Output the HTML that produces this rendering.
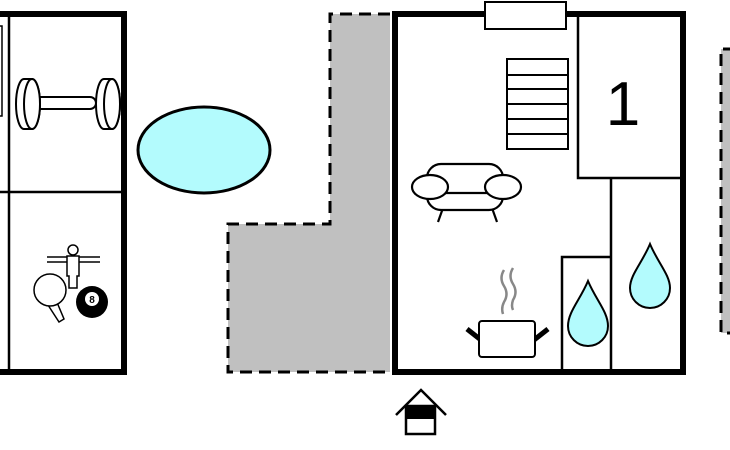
<!DOCTYPE html>
<html><head><meta charset="utf-8"><style>html,body{margin:0;padding:0;background:#fff}svg{display:block}</style></head>
<body>
<svg width="730" height="450" viewBox="0 0 730 450" xmlns="http://www.w3.org/2000/svg" font-family="Liberation Sans, sans-serif">
<!-- left building -->
<rect x="-10" y="14" width="134" height="358" fill="#fff" stroke="#000" stroke-width="6"/>
<line x1="9" y1="16" x2="9" y2="370" stroke="#000" stroke-width="2.5"/>
<line x1="0" y1="192" x2="121" y2="192" stroke="#000" stroke-width="2.5"/>
<rect x="-2" y="26" width="4" height="90" fill="#fff" stroke="#000" stroke-width="1.5"/>
<!-- dumbbell -->
<g stroke="#000" stroke-width="2" fill="#fff">
<rect x="30" y="97" width="66" height="12" rx="6"/>
<path d="M24 79 h8 a8 25 0 0 1 0 50 h-8 a8 25 0 0 1 0 -50z"/>
<ellipse cx="32" cy="104" rx="8" ry="25"/>
<path d="M104 79 h8 a8 25 0 0 1 0 50 h-8 a8 25 0 0 1 0 -50z"/>
<ellipse cx="112" cy="104" rx="8" ry="25"/>
</g>
<!-- game icons -->
<g stroke="#000" stroke-width="1.5" fill="#fff">
<line x1="47" y1="257" x2="100" y2="257"/><line x1="47" y1="262" x2="100" y2="262"/>
<circle cx="73" cy="250" r="5"/>
<path d="M67 256 h12 v20 h-2 v12 h-8 v-12 h-2z"/>
<path d="M56 300 l8 19 l-5 3 l-11 -17z"/>
<circle cx="50" cy="290" r="16"/>
</g>
<circle cx="92" cy="302" r="16" fill="#000"/>
<circle cx="92" cy="299" r="7" fill="#fff"/>
<text x="92" y="303" font-size="10" font-weight="bold" text-anchor="middle">8</text>
<!-- pool -->
<ellipse cx="204" cy="150" rx="66" ry="43" fill="#b3fbfd" stroke="#000" stroke-width="3"/>
<!-- gray terrace -->
<path d="M390 14 H330 V224 H228 V372 H390Z" fill="#c0c0c0"/>
<path d="M390 14 H330 V224 H228 V372 H390" fill="none" stroke="#000" stroke-width="3" stroke-dasharray="12,7"/>
<!-- right gray strip -->
<rect x="721" y="49" width="20" height="284" fill="#c0c0c0"/>
<path d="M735 49 H721 V333 H735" fill="none" stroke="#000" stroke-width="3" stroke-dasharray="12,7"/>
<!-- main building -->
<rect x="395" y="14" width="288" height="358" fill="#fff" stroke="#000" stroke-width="6"/>
<rect x="485" y="2" width="81" height="27" fill="#fff" stroke="#000" stroke-width="2"/>
<g stroke="#000" stroke-width="2.5" fill="none">
<path d="M578 17 V178 H680"/>
<line x1="611" y1="178" x2="611" y2="370"/>
<path d="M562 370 V257 H611"/>
</g>
<text x="623" y="125" font-size="62" text-anchor="middle">1</text>
<!-- stairs -->
<g stroke="#000" stroke-width="2" fill="#fff">
<rect x="507" y="59" width="61" height="90"/>
<line x1="507" y1="75" x2="568" y2="75"/><line x1="507" y1="89" x2="568" y2="89"/>
<line x1="507" y1="104" x2="568" y2="104"/><line x1="507" y1="119" x2="568" y2="119"/>
<line x1="507" y1="134" x2="568" y2="134"/>
</g>
<!-- sofa -->
<g stroke="#000" stroke-width="2.2" fill="#fff">
<line x1="443" y1="208" x2="438" y2="222"/><line x1="492" y1="208" x2="497" y2="222"/>
<rect x="427" y="164" width="76" height="46" rx="14"/>
<line x1="440" y1="193" x2="491" y2="193"/>
<ellipse cx="430" cy="187" rx="18" ry="12"/>
<ellipse cx="503" cy="187" rx="18" ry="12"/>
</g>
<!-- pot -->
<g fill="none" stroke="#888" stroke-width="2.5">
<path d="M504 270 q-5 8 0 16 q5 8 0 16 q-3 6 -1 12"/>
<path d="M513 268 q-5 8 0 16 q5 8 0 16 q-2 6 0 10"/>
</g>
<line x1="467" y1="329" x2="481" y2="340" stroke="#000" stroke-width="5"/>
<line x1="548" y1="329" x2="534" y2="340" stroke="#000" stroke-width="5"/>
<rect x="479" y="321" width="56" height="36" rx="3" fill="#fff" stroke="#000" stroke-width="2"/>
<!-- drops -->
<g fill="#b3fbfd" stroke="#000" stroke-width="2">
<path d="M588 281 C580 300 568 312 568 326 A20 20 0 0 0 608 326 C608 312 596 300 588 281Z"/>
<path d="M650 244 C642 263 630 275 630 288 A20 20 0 0 0 670 288 C670 275 658 263 650 244Z"/>
</g>
<!-- entrance -->
<g stroke="#000" stroke-width="2.5" fill="none">
<path d="M396 415 L421 390 L446 415"/>
</g>
<rect x="406" y="406" width="29" height="28" fill="#fff" stroke="#000" stroke-width="2.5"/>
<rect x="406" y="406" width="29" height="13" fill="#000"/>
</svg>
</body></html>
